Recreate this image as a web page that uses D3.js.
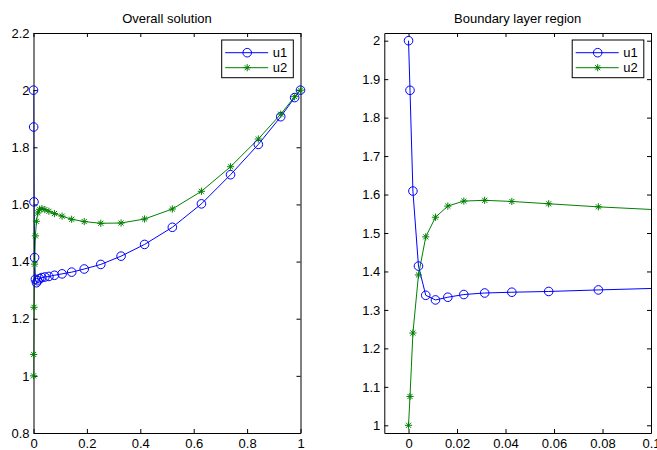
<!DOCTYPE html>
<html>
<head>
<meta charset="utf-8">
<script src="https://cdn.jsdelivr.net/npm/d3@7"></script>
<style>
  html, body { margin: 0; padding: 0; background: #fff; }
  svg { display: block; font-family: "Liberation Sans", Arial, Helvetica, sans-serif; }
</style>
</head>
<body>
<svg id="chart" width="657" height="450"></svg>
<script>
// ---- Data (mesh points and solution components) ----
const xMesh = [0, 0.0006, 0.0018, 0.0041, 0.0071, 0.0111, 0.0162, 0.0228, 0.0314, 0.0426, 0.0578, 0.0783,
               0.107, 0.143, 0.190, 0.252, 0.328, 0.416, 0.520, 0.629, 0.738, 0.842, 0.926, 0.978, 1.0];
const u1 = [2.0, 1.871, 1.609, 1.414, 1.338, 1.326, 1.333, 1.340, 1.344, 1.346, 1.348, 1.352,
            1.357, 1.363, 1.374, 1.390, 1.419, 1.460, 1.520, 1.602, 1.704, 1.810, 1.907, 1.974, 2.0];
const u2 = [1.0, 1.075, 1.240, 1.391, 1.490, 1.541, 1.570, 1.583, 1.585, 1.582, 1.576, 1.568,
            1.559, 1.548, 1.540, 1.534, 1.535, 1.549, 1.584, 1.646, 1.732, 1.829, 1.916, 1.977, 2.0];

const seriesNames = ["u1", "u2"];
const titles = ["Overall solution", "Boundary layer region"];

const leftXTicks = [0, 0.2, 0.4, 0.6, 0.8, 1];
const leftYTicks = [0.8, 1, 1.2, 1.4, 1.6, 1.8, 2, 2.2];
const rightXTicks = [0, 0.02, 0.04, 0.06, 0.08, 0.1];
const rightYTicks = [1, 1.1, 1.2, 1.3, 1.4, 1.5, 1.6, 1.7, 1.8, 1.9, 2];

const leftXDomain = [0, 1];
const leftYDomain = [0.8, 2.2];
const rightXDomain = [-0.01, 0.1];
const rightYDomain = [0.98, 2.02];

// ---- Styling ----
const colors = { u1: "#0000ff", u2: "#008000" };
const fontSize = 13;
const fmt = d3.format(".2~f");
const svg = d3.select("#chart");

const panels = [
  { id: "L", x0: 33.5, x1: 300.5, y0: 33, y1: 433, xd: leftXDomain, yd: leftYDomain,
    xt: leftXTicks, yt: leftYTicks, title: titles[0] },
  { id: "R", x0: 384.3, x1: 651, y0: 33, y1: 433, xd: rightXDomain, yd: rightYDomain,
    xt: rightXTicks, yt: rightYTicks, title: titles[1] }
];

const data = xMesh.map((x, i) => ({ x, u1: u1[i], u2: u2[i] }));

function starPath(cx, cy, s) {
  const d = s * 0.707;
  return `M${cx - s},${cy}L${cx + s},${cy}M${cx},${cy - s}L${cx},${cy + s}` +
         `M${cx - d},${cy - d}L${cx + d},${cy + d}M${cx - d},${cy + d}L${cx + d},${cy - d}`;
}

panels.forEach(p => {
  const x = d3.scaleLinear().domain(p.xd).range([p.x0, p.x1]);
  const y = d3.scaleLinear().domain(p.yd).range([p.y1, p.y0]);
  const g = svg.append("g");

  // clip for lines
  svg.append("clipPath").attr("id", "clip" + p.id)
    .append("rect").attr("x", p.x0).attr("y", p.y0)
    .attr("width", p.x1 - p.x0).attr("height", p.y1 - p.y0);

  const plot = g.append("g").attr("clip-path", `url(#clip${p.id})`);
  const marks = g.append("g");
  const inView = data.filter(d => d.x >= p.xd[0] && d.x <= p.xd[1]);

  seriesNames.forEach(name => {
    const line = d3.line().x(d => x(d.x)).y(d => y(d[name]));
    plot.append("path").datum(data)
      .attr("d", line).attr("fill", "none")
      .attr("stroke", colors[name]).attr("stroke-width", 1);
    if (name === "u1") {
      marks.selectAll(null).data(inView).enter().append("circle")
        .attr("cx", d => x(d.x)).attr("cy", d => y(d.u1)).attr("r", 4.3)
        .attr("fill", "none").attr("stroke", colors.u1).attr("stroke-width", 1);
    } else {
      marks.selectAll(null).data(inView).enter().append("path")
        .attr("d", d => starPath(x(d.x), y(d.u2), 3.6))
        .attr("fill", "none").attr("stroke", colors.u2).attr("stroke-width", 1);
    }
  });

  // axes (ticks inside, box on)
  const bottom = d3.axisBottom(x).tickValues(p.xt).tickFormat(fmt)
    .tickSizeInner(-4).tickSizeOuter(0).tickPadding(6);
  const top = d3.axisTop(x).tickValues(p.xt).tickFormat("")
    .tickSizeInner(-4).tickSizeOuter(0);
  const left = d3.axisLeft(y).tickValues(p.yt).tickFormat(fmt)
    .tickSizeInner(-4).tickSizeOuter(0).tickPadding(4);
  const right = d3.axisRight(y).tickValues(p.yt).tickFormat("")
    .tickSizeInner(-4).tickSizeOuter(0);

  const axes = [
    g.append("g").attr("transform", `translate(0,${p.y1})`).call(bottom),
    g.append("g").attr("transform", `translate(0,${p.y0})`).call(top),
    g.append("g").attr("transform", `translate(${p.x0},0)`).call(left),
    g.append("g").attr("transform", `translate(${p.x1},0)`).call(right)
  ];
  axes.forEach(a => {
    a.attr("font-size", fontSize).attr("font-family", null);
    a.selectAll("path.domain").attr("stroke", "#000").attr("stroke-width", 1);
    a.selectAll(".tick line").attr("stroke", "#000");
    a.selectAll(".tick text").attr("fill", "#000");
  });
  marks.raise();

  // title
  g.append("text").attr("x", (p.x0 + p.x1) / 2).attr("y", 23)
    .attr("text-anchor", "middle").attr("font-size", fontSize).attr("fill", "#000")
    .text(p.title);

  // legend
  const lw = 71.6, lh = 37.7;
  const lx = p.x1 - 7.2 - lw, ly = 40;
  const lg = g.append("g");
  lg.append("rect").attr("x", lx).attr("y", ly).attr("width", lw).attr("height", lh)
    .attr("fill", "#fff").attr("stroke", "#000").attr("stroke-width", 1);
  seriesNames.forEach((name, i) => {
    const ry = ly + 12.7 + i * 15;
    lg.append("line").attr("x1", lx + 3.5).attr("x2", lx + 46.5)
      .attr("y1", ry).attr("y2", ry).attr("stroke", colors[name]).attr("stroke-width", 1);
    const mx = lx + 25.5;
    if (name === "u1") {
      lg.append("circle").attr("cx", mx).attr("cy", ry).attr("r", 4.3)
        .attr("fill", "none").attr("stroke", colors[name]);
    } else {
      lg.append("path").attr("d", starPath(mx, ry, 3.6))
        .attr("fill", "none").attr("stroke", colors[name]);
    }
    lg.append("text").attr("x", lx + 51).attr("y", ry).attr("dy", "0.35em")
      .attr("font-size", fontSize).attr("fill", "#000").text(name);
  });
});
</script>
</body>
</html>
